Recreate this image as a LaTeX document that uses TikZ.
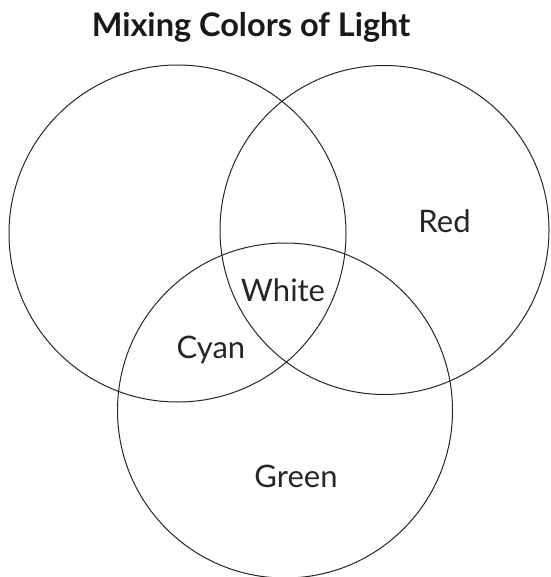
\documentclass[tikz,border=0pt]{standalone}
\usepackage{fontspec}
\setmainfont{Lato}
\begin{document}
\begin{tikzpicture}[x=1pt,y=-1pt,
  ring/.style={draw=black!85,line width=1pt},
  lbl/.style={font=\fontsize{31}{36}\selectfont,text=black!85,inner sep=0pt,anchor=base},
  ttl/.style={font=\bfseries\fontsize{32.5}{38}\selectfont,text=black!90,inner sep=0pt,anchor=base}]
\useasboundingbox (0,0) rectangle (550,577);
\node[ring,circle,minimum size=337pt,inner sep=0pt] (left) at (177.5,233.5) {};
\node[ring,circle,minimum size=329pt,inner sep=0pt] (right) at (384.5,230) {};
\node[ring,circle,minimum size=335pt,inner sep=0pt] (bottom) at (285,410.5) {};
\node[ttl] (title) at (251,37) {Mixing Colors of Light};
\node[lbl] (red) at (444.5,232) {Red};
\node[lbl] (white) at (283,301) {White};
\node[lbl] (cyan) at (211,358) {Cyan};
\node[lbl] (green) at (296,487) {Green};
\end{tikzpicture}
\end{document}
